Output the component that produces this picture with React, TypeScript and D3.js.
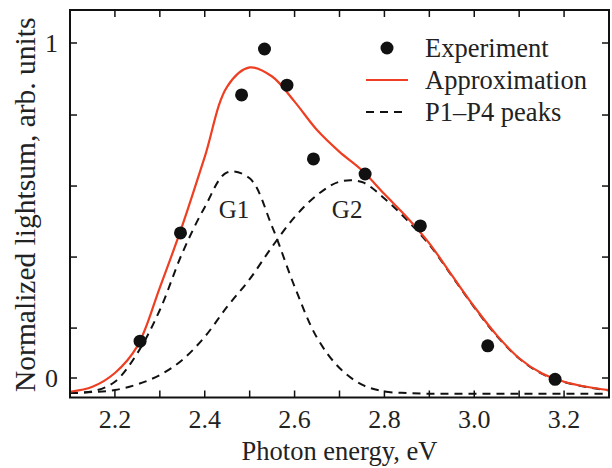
import React, { useEffect, useRef } from 'react';
import * as d3 from 'd3';

// measured points
const expX = [2.256, 2.346, 2.482, 2.533, 2.583, 2.642, 2.757, 2.88, 3.03, 3.18];
const expY = [0.11, 0.433, 0.845, 0.982, 0.874, 0.654, 0.609, 0.454, 0.096, -0.004];

// curves, 0.05 eV step
const curveX = [2.1, 2.15, 2.2, 2.25, 2.3, 2.35, 2.4, 2.45, 2.5, 2.55, 2.6, 2.65, 2.7, 2.75, 2.8, 2.85, 2.9, 2.95, 3.0, 3.05, 3.1, 3.15, 3.2, 3.25, 3.3];
const approxY = [-0.041, -0.026, 0.015, 0.095, 0.27, 0.455, 0.66, 0.87, 0.927, 0.9, 0.825, 0.74, 0.675, 0.62, 0.549, 0.48, 0.402, 0.307, 0.213, 0.128, 0.059, 0.014, -0.011, -0.026, -0.036];
const g1Y = [-0.045, -0.04, -0.011, 0.074, 0.203, 0.373, 0.51, 0.614, 0.596, 0.452, 0.273, 0.12, 0.03, -0.02, -0.04, -0.045, -0.047, -0.047, -0.047, -0.047, -0.047, -0.047, -0.047, -0.047, -0.047];
const g2Y = [-0.045, -0.042, -0.036, -0.019, 0.009, 0.054, 0.123, 0.213, 0.295, 0.392, 0.48, 0.546, 0.586, 0.585, 0.536, 0.472, 0.398, 0.305, 0.211, 0.126, 0.058, 0.013, -0.012, -0.027, -0.037];

const xTicks = [2.2, 2.3, 2.4, 2.5, 2.6, 2.7, 2.8, 2.9, 3.0, 3.1, 3.2];
const xLabels = ['2.2', '2.4', '2.6', '2.8', '3.0', '3.2'];
const yTicks = [0, 0.149, 0.361, 0.573, 0.785, 1];
const yLabels = ['0', '1'];

const legendItems = ['Experiment', 'Approximation', 'P1\u2013P4 peaks'];

const RED = '#ee3f22';
const FONT = '"Liberation Serif", "Times New Roman", serif';

const App: React.FC = () => {
  const svgRef = useRef<SVGSVGElement>(null);

  useEffect(() => {
    if (!svgRef.current) return;
    const svg = d3.select(svgRef.current);
    svg.selectAll('*').remove();

    const left = 70, right = 609, top = 10, bottom = 397.5;

    const x = d3.scaleLinear().domain([2.1, 3.3]).range([left, right]);
    const y = d3.scaleLinear().domain([-0.0582, 1.0985]).range([bottom, top]);

    svg.append('defs')
      .append('clipPath')
      .attr('id', 'plot-clip')
      .append('rect')
      .attr('x', left)
      .attr('y', top)
      .attr('width', right - left)
      .attr('height', bottom - top);

    const plot = svg.append('g').attr('clip-path', 'url(#plot-clip)');

    const line = d3
      .line<number>()
      .x((_d, i) => x(curveX[i]))
      .y(d => y(d))
      .curve(d3.curveCatmullRom);

    // G1, G2 dashed
    [g1Y, g2Y].forEach(vals => {
      plot.append('path')
        .datum(vals)
        .attr('fill', 'none')
        .attr('stroke', '#111')
        .attr('stroke-width', 2)
        .attr('stroke-dasharray', '8 6')
        .attr('d', line);
    });

    // approximation
    plot.append('path')
      .datum(approxY)
      .attr('fill', 'none')
      .attr('stroke', RED)
      .attr('stroke-width', 2.2)
      .attr('d', line);

    // experiment dots
    plot.selectAll('.dot')
      .data(expX)
      .enter()
      .append('circle')
      .attr('cx', d => x(d))
      .attr('cy', (_d, i) => y(expY[i]))
      .attr('r', 6.5)
      .attr('fill', '#111');

    // frame
    svg.append('rect')
      .attr('x', left)
      .attr('y', top)
      .attr('width', right - left)
      .attr('height', bottom - top)
      .attr('fill', 'none')
      .attr('stroke', '#111')
      .attr('stroke-width', 2);

    const tickLen = 7;
    const ticks = svg.append('g').attr('stroke', '#111').attr('stroke-width', 1.5);
    xTicks.forEach(t => {
      ticks.append('line').attr('x1', x(t)).attr('x2', x(t)).attr('y1', bottom).attr('y2', bottom - tickLen);
      ticks.append('line').attr('x1', x(t)).attr('x2', x(t)).attr('y1', top).attr('y2', top + tickLen);
    });
    yTicks.forEach(t => {
      ticks.append('line').attr('x1', left).attr('x2', left + tickLen).attr('y1', y(t)).attr('y2', y(t));
      ticks.append('line').attr('x1', right).attr('x2', right - tickLen).attr('y1', y(t)).attr('y2', y(t));
    });

    const addText = (tx: number, ty: number, s: string, size: number, anchor = 'start') =>
      svg.append('text')
        .attr('x', tx)
        .attr('y', ty)
        .attr('text-anchor', anchor)
        .attr('font-family', FONT)
        .attr('font-size', size)
        .attr('fill', '#222')
        .text(s);

    xLabels.forEach(d => addText(x(+d), 428, d, 26, 'middle'));
    yLabels.forEach(d => addText(58, y(+d) + 9, d, 26, 'end'));

    addText((left + right) / 2, 460, 'Photon energy, eV', 26.5, 'middle');

    addText(0, 0, 'Normalized lightsum, arb. units', 29.5, 'middle')
      .attr('transform', `translate(35,${(top + bottom) / 2 + 1}) rotate(-90)`)
      .attr('x', null)
      .attr('y', null);

    // peak labels
    addText(x(2.465), 218, 'G1', 25, 'middle');
    addText(x(2.717), 218, 'G2', 25, 'middle');

    // legend
    const lg = svg.append('g');
    const rowY = [48, 80, 112];
    lg.append('circle').attr('cx', 387).attr('cy', rowY[0]).attr('r', 6.5).attr('fill', '#111');
    lg.append('line').attr('x1', 366).attr('x2', 408).attr('y1', rowY[1]).attr('y2', rowY[1])
      .attr('stroke', RED).attr('stroke-width', 2.2);
    lg.append('line').attr('x1', 366).attr('x2', 408).attr('y1', rowY[2]).attr('y2', rowY[2])
      .attr('stroke', '#111').attr('stroke-width', 2).attr('stroke-dasharray', '8 6');
    legendItems.forEach((d, i) => addText(425, rowY[i] + 8.5, d, 26.5));
  }, []);

  return (
    <svg
      ref={svgRef}
      width={612}
      height={468}
      style={{ position: 'absolute', left: 0, top: 0, background: '#fff' }}
    />
  );
};

export default App;
